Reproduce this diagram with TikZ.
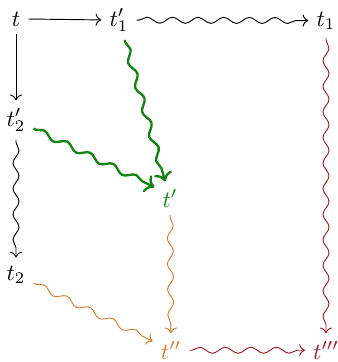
\documentclass[tikz,border=0pt]{standalone}
\usetikzlibrary{decorations.pathmorphing,arrows.meta}
\definecolor{cgreen}{RGB}{20,130,20}
\definecolor{corange}{RGB}{205,125,50}
\definecolor{cred}{RGB}{150,30,40}
\begin{document}
\begin{tikzpicture}[x=0.43pt,y=-0.43pt,
  lbl/.style={anchor=base,inner sep=3.33pt},
  plain/.style={-{Computer Modern Rightarrow}},
  sq/.style={-{Computer Modern Rightarrow},decorate,
    decoration={snake,amplitude=1.3pt,segment length=11pt,pre length=1pt,post length=3pt}}]
\useasboundingbox (0,0) rectangle (338,362);
\node[lbl] (t) at (16,26) {$t$};
\node[lbl] (t1p) at (119,26) {$t'_1$};
\node[lbl] (t1) at (326,26) {$t_1$};
\node[lbl] (t2p) at (16,126) {$t'_2$};
\node[lbl,text=cgreen] (tp) at (170,207) {$t'$};
\node[lbl] (t2) at (16,280) {$t_2$};
\node[lbl,text=corange] (tpp) at (171,359) {$t''$};
\node[lbl,text=cred] (tppp) at (326,359) {$t'''$};
\draw[plain] (t) -- (t1p);
\draw[plain] (t) -- (t2p);
\draw[sq] (t1p) -- (t1);
\draw[sq] (t2p) -- (t2);
\draw[sq,cgreen,line width=1pt] (t1p) -- (tp);
\draw[sq,cgreen,line width=1pt] (t2p) -- ([yshift=-2.5pt]tp.north west);
\draw[sq,corange] (tp) -- (tpp);
\draw[sq,corange] (t2) -- (tpp);
\draw[sq,cred] (t1) -- (tppp);
\draw[sq,cred] (tpp) -- (tppp);
\end{tikzpicture}
\end{document}
